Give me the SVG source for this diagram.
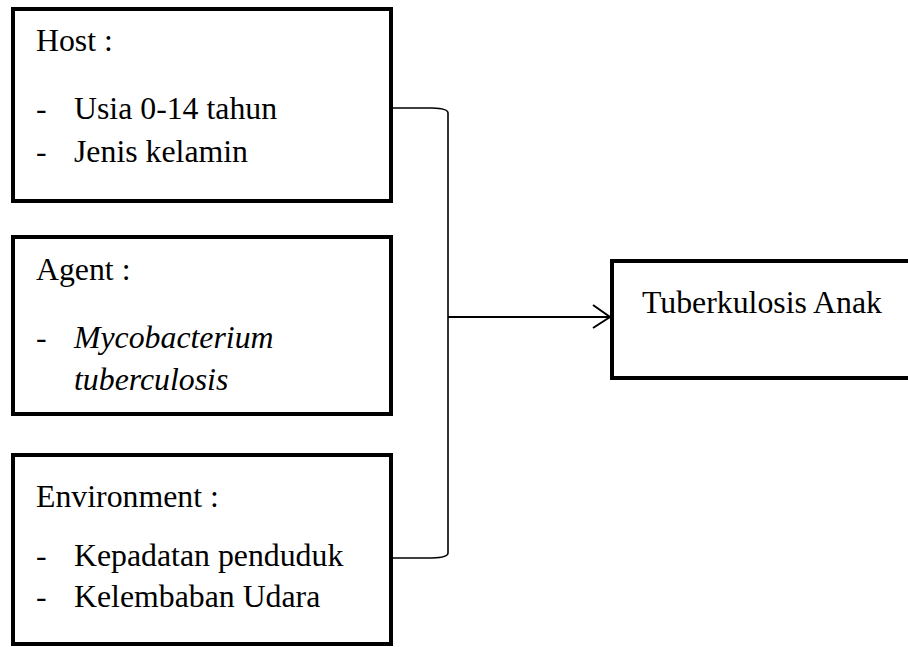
<svg xmlns="http://www.w3.org/2000/svg" width="908" height="647" viewBox="0 0 908 647">
<style>
.box{fill:#fff;stroke:#000;stroke-width:4}
.t{font-family:"Liberation Serif","Times New Roman",serif;font-size:31.8px;fill:#000}
.i{font-style:italic}
.c{fill:none;stroke:#000;stroke-width:1.6}
.a{fill:none;stroke:#000;stroke-width:2}
</style>
<rect width="908" height="647" fill="#fff"/>
<g id="connectors">
<path class="c" d="M391,108 L432,108 Q448,108.5 448,113 L448,553 Q448,557.5 432,558 L391,558"/>
<path class="a" d="M448,317 L610,317"/>
<path class="a" d="M593,305 L610,317 L593,328"/>
</g>
<g id="host">
<rect class="box" x="13" y="9" width="378" height="192"/>
<text class="t" x="36" y="51">Host :</text>
<text class="t" x="36" y="119">-</text><text class="t" x="74" y="119">Usia 0-14 tahun</text>
<text class="t" x="36" y="162">-</text><text class="t" x="74" y="162">Jenis kelamin</text>
</g>
<g id="agent">
<rect class="box" x="13" y="237" width="378" height="177"/>
<text class="t" x="36" y="280">Agent :</text>
<text class="t" x="36" y="348">-</text><text class="t i" x="74" y="348">Mycobacterium</text>
<text class="t i" x="74" y="390">tuberculosis</text>
</g>
<g id="environment">
<rect class="box" x="13" y="455" width="378" height="189"/>
<text class="t" x="36" y="507">Environment :</text>
<text class="t" x="36" y="566">-</text><text class="t" x="74" y="566">Kepadatan penduduk</text>
<text class="t" x="36" y="607">-</text><text class="t" x="74" y="607">Kelembaban Udara</text>
</g>
<g id="tb">
<rect class="box" x="612" y="261" width="320" height="117"/>
<text class="t" x="642" y="313">Tuberkulosis Anak</text>
</g>
</svg>
